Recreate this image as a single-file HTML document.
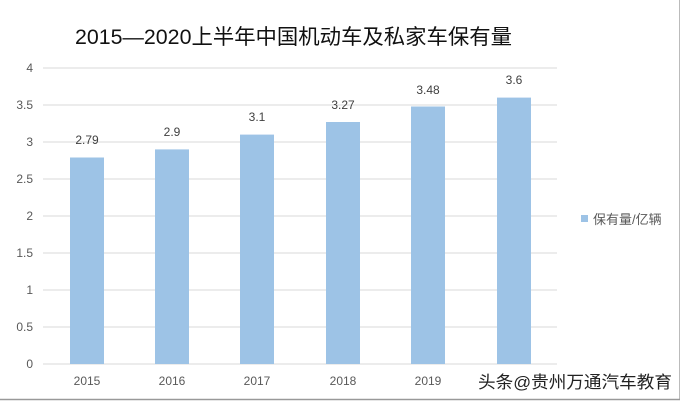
<!DOCTYPE html>
<html><head><meta charset="utf-8"><style>
body{margin:0;background:#fff;}
svg{display:block;}
text{font-family:"Liberation Sans","Noto Sans CJK SC",sans-serif;}
</style></head><body>
<svg width="682" height="402" viewBox="0 0 682 402">
<rect width="682" height="402" fill="#fff"/>
<line x1="679.5" y1="0" x2="679.5" y2="400" stroke="#bbb" stroke-width="1"/>
<line x1="0" y1="399.5" x2="680" y2="399.5" stroke="#999" stroke-width="1.5"/>
<text x="75" y="44" font-size="21" fill="#111" textLength="437" lengthAdjust="spacingAndGlyphs">2015—2020上半年中国机动车及私家车保有量</text>
<g stroke="#d9d9d9" stroke-width="1">
<line x1="43" y1="68" x2="557" y2="68"/>
<line x1="43" y1="105" x2="557" y2="105"/>
<line x1="43" y1="142" x2="557" y2="142"/>
<line x1="43" y1="179" x2="557" y2="179"/>
<line x1="43" y1="216" x2="557" y2="216"/>
<line x1="43" y1="253" x2="557" y2="253"/>
<line x1="43" y1="290" x2="557" y2="290"/>
<line x1="43" y1="327" x2="557" y2="327"/>
<line x1="43" y1="364" x2="557" y2="364"/>
</g>
<g font-size="12" fill="#595959" text-anchor="end">
<text x="33" y="72">4</text><text x="33" y="109">3.5</text><text x="33" y="146">3</text>
<text x="33" y="183">2.5</text><text x="33" y="220">2</text><text x="33" y="257">1.5</text>
<text x="33" y="294">1</text><text x="33" y="331">0.5</text><text x="33" y="368">0</text>
</g>
<g fill="#9dc3e6">
<rect x="70" y="157.5" width="34" height="206.5"/>
<rect x="155" y="149.4" width="34" height="214.6"/>
<rect x="240" y="134.6" width="34" height="229.4"/>
<rect x="326" y="122" width="34" height="242"/>
<rect x="411" y="106.5" width="34" height="257.5"/>
<rect x="497" y="97.6" width="34" height="266.4"/>
</g>
<g font-size="12" fill="#404040" text-anchor="middle">
<text x="87" y="144">2.79</text><text x="172" y="136">2.9</text><text x="257" y="121">3.1</text>
<text x="343" y="109">3.27</text><text x="428" y="94">3.48</text><text x="514" y="84">3.6</text>
</g>
<g font-size="12" fill="#595959" text-anchor="middle">
<text x="87" y="385">2015</text><text x="172" y="385">2016</text><text x="257" y="385">2017</text>
<text x="343" y="385">2018</text><text x="428" y="385">2019</text>
</g>
<rect x="581" y="215" width="7" height="7" fill="#9dc3e6"/>
<text x="593" y="224" font-size="13" fill="#595959">保有量/亿辆</text>
<text x="478" y="388" font-size="17" fill="#222" textLength="194" lengthAdjust="spacingAndGlyphs">头条@贵州万通汽车教育</text>
</svg>
</body></html>
